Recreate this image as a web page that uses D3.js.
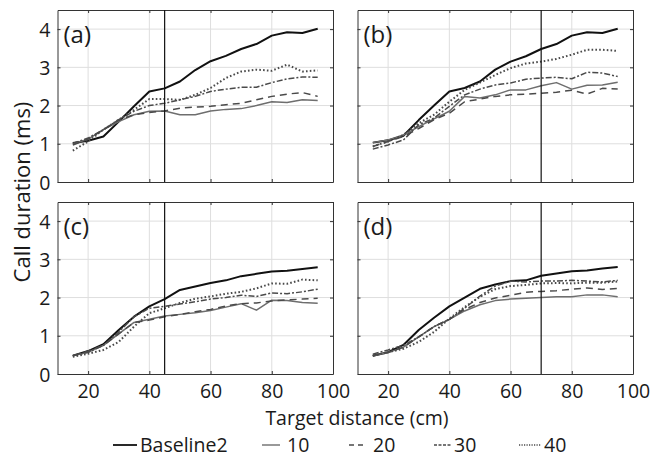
<!DOCTYPE html>
<html><head><meta charset="utf-8">
<script src="https://cdn.jsdelivr.net/npm/d3@7"></script>
<style>body{margin:0;background:#fff}svg{display:block}text{font-family:"Open Sans",sans-serif;fill:#1a1a1a}</style>
</head><body><div id="chart"></div>
<script>
const distances = [15,20,25,30,35,40,45,50,55,60,65,70,75,80,85,90,95];
const xTicks = [20,40,60,80,100];
const yTicks = [0,1,2,3,4];
const panelLabels = ["(a)","(b)","(c)","(d)"];
const markerLines = [45,70,45,70];
const seriesNames = ["Baseline2","10","20","30","40"];

const a_base = [1.02,1.08,1.19,1.58,1.98,2.37,2.45,2.63,2.93,3.16,3.30,3.48,3.61,3.83,3.92,3.90,4.01];
const a_10 = [1.00,1.12,1.37,1.58,1.76,1.85,1.86,1.76,1.76,1.86,1.90,1.92,2.00,2.10,2.08,2.15,2.13];
const a_20 = [0.97,1.12,1.37,1.62,1.76,1.82,1.86,1.93,1.96,1.98,2.02,2.06,2.15,2.24,2.30,2.34,2.24];
const a_30 = [1.01,1.15,1.37,1.63,1.85,2.00,2.06,2.15,2.24,2.37,2.43,2.48,2.48,2.60,2.70,2.75,2.74];
const a_40 = [0.82,1.06,1.37,1.63,1.89,2.17,2.17,2.15,2.28,2.46,2.72,2.89,2.94,2.91,3.07,2.89,2.92];

const b_base = [1.03,1.09,1.21,1.62,2.00,2.37,2.46,2.63,2.94,3.15,3.29,3.48,3.61,3.83,3.92,3.90,4.01];
const b_10 = [1.03,1.10,1.23,1.45,1.65,1.85,2.24,2.20,2.28,2.41,2.41,2.52,2.60,2.43,2.53,2.54,2.61];
const b_20 = [0.93,1.06,1.19,1.40,1.63,1.80,2.10,2.17,2.24,2.28,2.30,2.32,2.35,2.40,2.30,2.45,2.43];
const b_30 = [0.86,0.97,1.10,1.50,1.67,1.98,2.28,2.43,2.54,2.59,2.69,2.72,2.74,2.70,2.87,2.85,2.76];
const b_40 = [0.93,1.06,1.23,1.54,1.76,2.10,2.41,2.60,2.80,2.98,3.10,3.15,3.22,3.33,3.46,3.46,3.43];

const c_base = [0.48,0.60,0.78,1.15,1.50,1.77,1.96,2.20,2.29,2.38,2.45,2.56,2.62,2.68,2.70,2.75,2.79];
const c_10 = [0.48,0.57,0.75,1.05,1.35,1.43,1.52,1.56,1.60,1.66,1.75,1.84,1.67,1.93,1.92,1.87,1.85];
const c_20 = [0.48,0.60,0.75,1.05,1.35,1.41,1.50,1.56,1.63,1.69,1.78,1.84,1.86,1.91,1.94,1.96,1.98];
const c_30 = [0.48,0.57,0.75,1.10,1.50,1.72,1.77,1.83,1.89,1.96,2.00,2.06,2.03,2.12,2.10,2.15,2.22];
const c_40 = [0.45,0.53,0.63,0.84,1.24,1.59,1.72,1.86,1.97,2.03,2.10,2.15,2.24,2.37,2.36,2.47,2.45];

const d_base = [0.48,0.57,0.76,1.15,1.47,1.77,2.00,2.23,2.34,2.43,2.45,2.57,2.63,2.69,2.71,2.76,2.80];
const d_10 = [0.47,0.56,0.70,0.97,1.24,1.43,1.65,1.81,1.92,1.96,1.98,2.00,2.02,2.02,2.07,2.07,2.02];
const d_20 = [0.48,0.57,0.70,0.97,1.24,1.43,1.69,1.87,1.99,2.06,2.14,2.16,2.18,2.22,2.25,2.21,2.24];
const d_30 = [0.52,0.63,0.75,0.97,1.24,1.43,1.72,2.04,2.30,2.43,2.41,2.43,2.43,2.45,2.43,2.41,2.45];
const d_40 = [0.48,0.57,0.66,0.84,1.10,1.45,1.75,2.02,2.22,2.30,2.33,2.37,2.38,2.37,2.39,2.39,2.42];

const panelsData = [
  [a_base,a_10,a_20,a_30,a_40],
  [b_base,b_10,b_20,b_30,b_40],
  [c_base,c_10,c_20,c_30,c_40],
  [d_base,d_10,d_20,d_30,d_40]
];

const styles = [
  {stroke:"#111", width:2.0, dash:null},
  {stroke:"#6e6e6e", width:1.5, dash:null},
  {stroke:"#4a4a4a", width:1.5, dash:"7,5"},
  {stroke:"#4a4a4a", width:1.5, dash:"6,2,2,2"},
  {stroke:"#4a4a4a", width:2.0, dash:"1.6,2.2"}
];
const legendDash = [null, null, "5,4", "3,1.5", "1.2,1.3"];

const W = 652, H = 457;
const svg = d3.select("#chart").append("svg").attr("width",W).attr("height",H);

const colX = [57.5, 357.5], pw = 275.5;
const rowY = [10, 202], ph = 172;

panelsData.forEach((series, i) => {
  const col = i % 2, row = Math.floor(i/2);
  const x0 = colX[col], y0 = rowY[row];
  const x = d3.scaleLinear().domain([10,100]).range([x0, x0+pw]);
  const y = d3.scaleLinear().domain([0,4.5]).range([y0+ph, y0]);
  const g = svg.append("g");
  g.selectAll(".gx").data(xTicks.filter(t=>t<100)).join("line")
    .attr("x1",d=>x(d)).attr("x2",d=>x(d)).attr("y1",y0).attr("y2",y0+ph)
    .attr("stroke","#dedede").attr("stroke-width",1);
  g.selectAll(".gy").data(yTicks.filter(t=>t>0)).join("line")
    .attr("x1",x0).attr("x2",x0+pw).attr("y1",d=>y(d)).attr("y2",d=>y(d))
    .attr("stroke","#dedede").attr("stroke-width",1);
  const axB = d3.axisBottom(x).tickValues(xTicks).tickSizeInner(-3).tickSizeOuter(0).tickFormat(row===1?d3.format("d"):()=>"");
  const gb = g.append("g").attr("transform",`translate(0,${y0+ph})`).call(axB);
  const axT = d3.axisTop(x).tickValues(xTicks).tickSizeInner(-3).tickSizeOuter(0).tickFormat(()=>"");
  const gt = g.append("g").attr("transform",`translate(0,${y0})`).call(axT);
  const axL = d3.axisLeft(y).tickValues(yTicks).tickSizeInner(-3).tickSizeOuter(0).tickFormat(col===0?d3.format("d"):()=>"");
  const gl = g.append("g").attr("transform",`translate(${x0},0)`).call(axL);
  const axR = d3.axisRight(y).tickValues(yTicks).tickSizeInner(-3).tickSizeOuter(0).tickFormat(()=>"");
  const gr = g.append("g").attr("transform",`translate(${x0+pw},0)`).call(axR);
  [gb,gt,gl,gr].forEach(a=>{
    a.select(".domain").attr("stroke","#333");
    a.selectAll(".tick line").attr("stroke","#333");
    a.selectAll("text").attr("font-family","Open Sans").attr("font-size",19.5).attr("fill","#1a1a1a");
  });
  gb.selectAll("text").attr("y",24).attr("dy",0);
  gl.selectAll("text").attr("x",-7).attr("dy","0.36em");
  const line = d3.line().x((d,j)=>x(distances[j])).y(d=>y(d));
  series.forEach((vals, k) => {
    const s = styles[k];
    g.append("path").datum(vals).attr("d",line).attr("fill","none")
      .attr("stroke",s.stroke).attr("stroke-width",s.width)
      .attr("stroke-dasharray",s.dash).attr("stroke-linejoin","round");
  });
  g.append("line").attr("x1",x(markerLines[i])).attr("x2",x(markerLines[i]))
    .attr("y1",y0).attr("y2",y0+ph).attr("stroke","#111").attr("stroke-width",1.2);
  g.append("text").attr("x",x0+6).attr("y",y0+33).attr("font-size",24).text(panelLabels[i]);
});

svg.append("text").attr("transform","translate(30,192) rotate(-90)")
  .attr("text-anchor","middle").attr("font-size",22).text("Call duration (ms)");
svg.append("text").attr("x",357).attr("y",424.5).attr("text-anchor","middle")
  .attr("font-size",19.5).text("Target distance (cm)");

const legLine = [[113,137],[262,280],[349,366],[434,451],[519,541]];
const legText = [140,287,373,454,544];
const lg = svg.append("g");
seriesNames.forEach((n,k)=>{
  const s = styles[k];
  lg.append("line").attr("x1",legLine[k][0]).attr("x2",legLine[k][1]).attr("y1",445).attr("y2",445)
    .attr("stroke",s.stroke).attr("stroke-width",k===0?1.8:1.4).attr("stroke-dasharray",legendDash[k]);
  lg.append("text").attr("x",legText[k]).attr("y",451.5).attr("font-size",19.5).text(n);
});
</script></body></html>
